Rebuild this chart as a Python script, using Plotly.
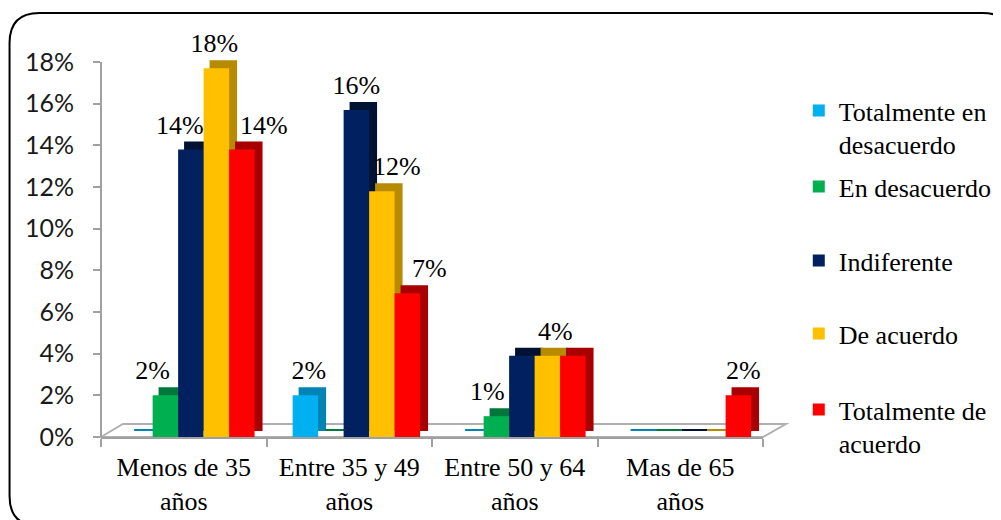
import plotly.graph_objects as go

# ---------------- data ----------------
categories = ["Menos de 35<br>años", "Entre 35 y 49<br>años", "Entre 50 y 64<br>años", "Mas de 65<br>años"]
series_names = ["Totalmente en<br>desacuerdo", "En desacuerdo", "Indiferente", "De acuerdo", "Totalmente de<br>acuerdo"]
tot_desacuerdo = [0.0, 0.020, 0.0, 0.0]
en_desacuerdo = [0.020, 0.0, 0.010, 0.0]
indiferente = [0.138, 0.157, 0.039, 0.0]
de_acuerdo = [0.177, 0.118, 0.039, 0.0]
tot_acuerdo = [0.138, 0.069, 0.039, 0.020]
# which data labels are shown in the original
label_shown = [
    [False, True, False, False],
    [True, False, True, False],
    [True, True, False, False],
    [True, True, True, False],
    [True, True, False, True],
]
y_ticks = [0, 0.02, 0.04, 0.06, 0.08, 0.10, 0.12, 0.14, 0.16, 0.18]

# ---------------- style ----------------
colors = ["#00B0F0", "#00B050", "#002060", "#FFC000", "#FF0000"]
side_colors = ["#0084B4", "#00783C", "#001232", "#B88A00", "#A80000"]
# horizontal nudges of data labels, in pixels
label_nudge_px = [
    [0, 0, 0, 0],
    [-16.5, 0, -12.5, 0],
    [-14.5, -3.5, 0, 0],
    [-5.5, 11.5, 4.5, 0],
    [18.5, 18.5, 0, 1.5],
]

series = [tot_desacuerdo, en_desacuerdo, indiferente, de_acuerdo, tot_acuerdo]

W, H = 1001, 520
L, R, T, B = 93, 242, 50, 91
pw, ph = W - L - R, H - T - B
y_top = 0.18 * ph / 375.0
cat_px = pw / len(categories)
bar_w = 0.154
first_off = -0.342
depth_px = 7
dx = depth_px / cat_px
dy = depth_px * y_top / ph

fig = go.Figure()

# side / top faces (pseudo-3D depth)
for i, vals in enumerate(series):
    fig.add_trace(go.Bar(
        x=categories, y=vals, base=dy, width=bar_w, offset=first_off + i * bar_w + dx,
        marker=dict(color=side_colors[i], line=dict(width=2, color=side_colors[i])),
        showlegend=False, hoverinfo="skip", cliponaxis=False,
    ))

# front faces
legend_ids = ["legend", "legend2", "legend3", "legend4", "legend5"]
for i, (name, vals) in enumerate(zip(series_names, series)):
    fig.add_trace(go.Bar(
        x=categories, y=vals, name=name, width=bar_w, offset=first_off + i * bar_w,
        marker=dict(color=colors[i], line=dict(width=0)),
        legend=legend_ids[i], cliponaxis=False,
    ))

# data labels
for i, vals in enumerate(series):
    texts = [f"{v*100:.0f}%" if (label_shown[i][j] and v > 0) else "" for j, v in enumerate(vals)]
    offs = [first_off + i * bar_w + dx / 2 + label_nudge_px[i][j] / cat_px for j in range(len(vals))]
    fig.add_trace(go.Bar(
        x=categories, y=vals, base=dy, width=bar_w, offset=offs,
        marker=dict(color="rgba(0,0,0,0)", line=dict(width=0)),
        text=texts, textposition="outside", constraintext="none", cliponaxis=False,
        textfont=dict(family="Liberation Serif", size=26, color="#000000"),
        showlegend=False, hoverinfo="skip",
    ))


def px(x):
    return (x - L) / pw


def py(y):
    return (H - B - y) / ph


# rounded border (figure pixel coords; right/bottom run past the page edge)
bx0, bx1, by0, by1 = 1, 1010, 5, 518
rr = 30
x0, x1, y0, y1 = px(bx0), px(bx1), py(by0), py(by1)
rx, ry = rr / pw, rr / ph
border = (f"M {x0+rx},{y0} L {x1-rx},{y0} Q {x1},{y0} {x1},{y0-ry} "
          f"L {x1},{y1+ry} Q {x1},{y1} {x1-rx},{y1} L {x0+rx},{y1} "
          f"Q {x0},{y1} {x0},{y1+ry} L {x0},{y0-ry} Q {x0},{y0} {x0+rx},{y0} Z")

# 3D floor outline
f_left, f_right = L, L + pw
floor = (f"M {px(f_left)},{py(H-B)} L {px(f_left+22)},{py(H-B-13)} "
         f"L {px(f_right+23)},{py(H-B-13)} L {px(f_right)},{py(H-B)} Z")

legend_tops = [79, 155, 229, 302, 378]
legend_x = px(795)
legends = {}
for k, lid in enumerate(legend_ids):
    legends[lid] = dict(
        x=legend_x, y=py(legend_tops[k]), xanchor="left", yanchor="top",
        font=dict(family="Liberation Serif", size=26, color="#000000"),
        valign="top", bgcolor="rgba(0,0,0,0)", itemwidth=30,
    )

fig.update_layout(
    width=W, height=H,
    margin=dict(l=L, r=R, t=T, b=B),
    paper_bgcolor="white", plot_bgcolor="white",
    barmode="overlay",
    showlegend=True,
    shapes=[
        dict(type="path", xref="paper", yref="paper", path=border,
             line=dict(color="#000000", width=2), fillcolor="rgba(0,0,0,0)", layer="below"),
        dict(type="path", xref="paper", yref="paper", path=floor,
             line=dict(color="#B0B0B0", width=2), fillcolor="rgba(0,0,0,0)", layer="below"),
        dict(type="line", xref="paper", yref="paper", x0=0, x1=0, y0=0, y1=py(62 - 8),
             line=dict(color="#A0A0A0", width=2)),
    ],
    xaxis=dict(
        showline=True, linecolor="#A0A0A0", linewidth=2,
        ticks="outside", tickson="boundaries", ticklen=8, tickcolor="#A0A0A0", tickwidth=2,
        showgrid=False, ticklabelstandoff=6,
        tickfont=dict(family="Liberation Serif", size=26, color="#000000"),
    ),
    yaxis=dict(
        range=[0, y_top], tickvals=y_ticks, tickformat=".0%",
        showline=False,
        ticks="outside", ticklen=7, tickcolor="#A0A0A0", tickwidth=2,
        showgrid=False, zeroline=False, ticklabelstandoff=14,
        tickfont=dict(family="Lato", size=25, color="#1A1A1A"),
    ),
    **legends,
)

fig.write_html("out.html")
